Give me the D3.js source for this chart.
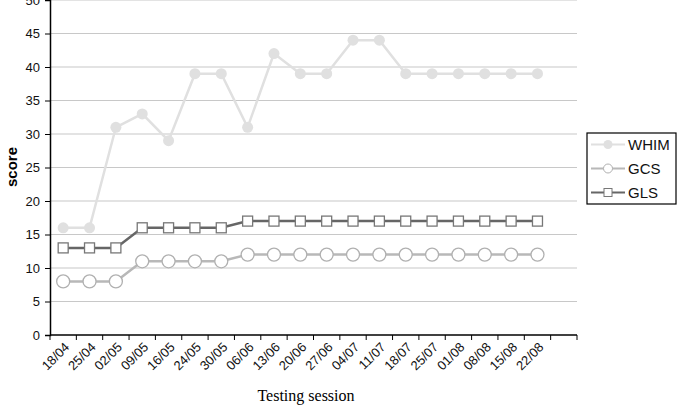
<!DOCTYPE html>
<html>
<head>
<meta charset="utf-8">
<script src="https://cdn.jsdelivr.net/npm/d3@7"></script>
<style>
  body { margin: 0; background: #fff; }
  .tick text { font-family: "Liberation Sans", Arial, sans-serif; font-size: 13px; fill: #111; }
</style>
</head>
<body>
<div id="chart"></div>
<script>
// sessions (one empty slot at the end of the axis)
const sessions = ["18/04","25/04","02/05","09/05","16/05","24/05","30/05","06/06","13/06","20/06",
                  "27/06","04/07","11/07","18/07","25/07","01/08","08/08","15/08","22/08",""];
const whim = [16,16,31,33,29,39,39,31,42,39,39,44,44,39,39,39,39,39,39];
const gcs  = [8,8,8,11,11,11,11,12,12,12,12,12,12,12,12,12,12,12,12];
const gls  = [13,13,13,16,16,16,16,17,17,17,17,17,17,17,17,17,17,17,17];
const yTicks = [0,5,10,15,20,25,30,35,40,45,50];

const W = 682, H = 410;
const margin = {top: 0, left: 50},
    plotW = 527, plotH = 335;

var svg = d3.select("#chart").append("svg")
    .attr("width", W)
    .attr("height", H);

var g = svg.append("g").attr("transform", "translate(" + margin.left + "," + margin.top + ")");

var x = d3.scaleBand().domain(sessions).range([0, plotW]);
var y = d3.scaleLinear().domain([0, 50]).range([plotH, 0]);

var cx = function(i) { return x(sessions[i]) + x.bandwidth() / 2; };

// gridlines
g.selectAll(".grid")
  .data(yTicks.filter(function(d) { return d > 0; }))
  .enter().append("line")
    .attr("x1", 0).attr("x2", plotW)
    .attr("y1", function(d) { return y(d); })
    .attr("y2", function(d) { return y(d); })
    .attr("stroke", "#c8c8c8")
    .attr("stroke-width", 1.2);

// y axis
var yAxis = g.append("g")
    .call(d3.axisLeft(y).tickValues(yTicks).tickSize(5).tickPadding(5));
yAxis.select(".domain").attr("stroke", "#000").attr("stroke-width", 1.5);

// x axis, ticks between categories
var xAxis = g.append("g")
    .attr("transform", "translate(0," + plotH + ")");
xAxis.append("line")
    .attr("x1", 0).attr("x2", plotW)
    .attr("stroke", "#000").attr("stroke-width", 1.5);
xAxis.selectAll(".xt")
  .data(sessions.concat(["end"]))
  .enter().append("line")
    .attr("x1", function(d, i) { return i * x.step(); })
    .attr("x2", function(d, i) { return i * x.step(); })
    .attr("y1", 0).attr("y2", 5)
    .attr("stroke", "#000");
xAxis.selectAll(".xl")
  .data(sessions.filter(function(d) { return d !== ""; }))
  .enter().append("text")
    .attr("transform", function(d, i) { return "translate(" + (cx(i) + 7) + ",13) rotate(-45)"; })
    .attr("text-anchor", "end")
    .style("font-family", "'Liberation Sans', Arial, sans-serif")
    .style("font-size", "13px")
    .style("fill", "#111")
    .text(function(d) { return d; });

var line = d3.line()
    .x(function(d, i) { return cx(i); })
    .y(function(d) { return y(d); });

// WHIM
g.append("path").datum(whim)
    .attr("d", line).attr("fill", "none")
    .attr("stroke", "#e0e0e0").attr("stroke-width", 2.5);
g.selectAll(".whim").data(whim).enter().append("circle")
    .attr("cx", function(d, i) { return cx(i); })
    .attr("cy", function(d) { return y(d); })
    .attr("r", 5.5)
    .attr("fill", "#e0e0e0");

// GLS
g.append("path").datum(gls)
    .attr("d", line).attr("fill", "none")
    .attr("stroke", "#666").attr("stroke-width", 2.5);
g.selectAll(".gls").data(gls).enter().append("rect")
    .attr("x", function(d, i) { return cx(i) - 5; })
    .attr("y", function(d) { return y(d) - 5; })
    .attr("width", 10).attr("height", 10)
    .attr("fill", "#fff").attr("stroke", "#777").attr("stroke-width", 1.3);

// GCS
g.append("path").datum(gcs)
    .attr("d", line).attr("fill", "none")
    .attr("stroke", "#b8b8b8").attr("stroke-width", 2.5);
g.selectAll(".gcs").data(gcs).enter().append("circle")
    .attr("cx", function(d, i) { return cx(i); })
    .attr("cy", function(d) { return y(d); })
    .attr("r", 6.5)
    .attr("fill", "#fff").attr("stroke", "#b0b0b0").attr("stroke-width", 1.3);

// axis titles
svg.append("text")
    .attr("transform", "translate(17,167) rotate(-90)")
    .attr("text-anchor", "middle")
    .style("font-family", "'Liberation Sans', Arial, sans-serif")
    .style("font-size", "15px")
    .style("font-weight", "bold")
    .text("score");

svg.append("text")
    .attr("x", 306).attr("y", 401)
    .attr("text-anchor", "middle")
    .style("font-family", "'Liberation Serif', 'Times New Roman', serif")
    .style("font-size", "16px")
    .text("Testing session");

// legend
var legend = svg.append("g").attr("transform", "translate(587,133)");
legend.append("rect")
    .attr("width", 89).attr("height", 71)
    .attr("fill", "#fff").attr("stroke", "#000").attr("stroke-width", 1.2);

var items = [
  {name: "WHIM", stroke: "#e0e0e0", mark: "dot"},
  {name: "GCS", stroke: "#b8b8b8", mark: "circle"},
  {name: "GLS", stroke: "#666", mark: "square"}
];
var li = legend.selectAll(".li").data(items).enter().append("g")
    .attr("transform", function(d, i) { return "translate(0," + (11.5 + i * 24) + ")"; });
li.append("line")
    .attr("x1", 4).attr("x2", 38)
    .attr("stroke", function(d) { return d.stroke; })
    .attr("stroke-width", 2);
li.each(function(d) {
  var s = d3.select(this);
  if (d.mark === "dot") {
    s.append("circle").attr("cx", 21).attr("r", 4.5).attr("fill", "#e0e0e0");
  } else if (d.mark === "circle") {
    s.append("circle").attr("cx", 21).attr("r", 4.5)
      .attr("fill", "#fff").attr("stroke", "#b0b0b0");
  } else {
    s.append("rect").attr("x", 17).attr("y", -4).attr("width", 8).attr("height", 8)
      .attr("fill", "#fff").attr("stroke", "#777");
  }
});
li.append("text")
    .attr("x", 41).attr("y", 5.5)
    .style("font-family", "'Liberation Sans', Arial, sans-serif")
    .style("font-size", "15px")
    .style("fill", "#111")
    .text(function(d) { return d.name; });
</script>
</body>
</html>
